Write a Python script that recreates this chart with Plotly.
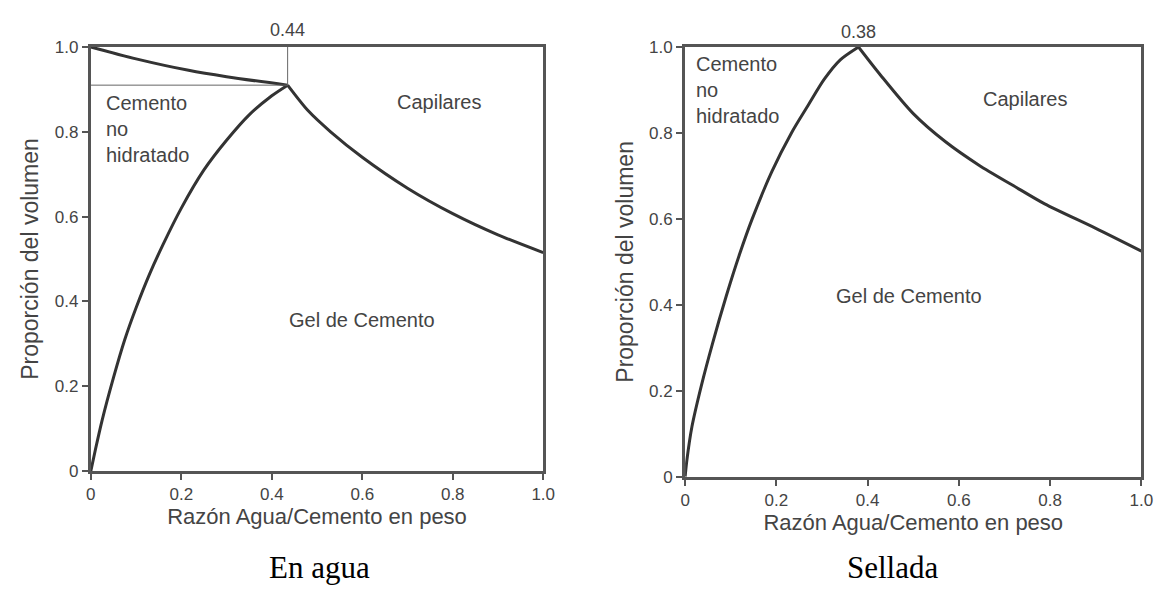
import plotly.graph_objects as go
from plotly.subplots import make_subplots

# left panel: "En agua"
agua_upper_x = [0.0, 0.1, 0.216, 0.3, 0.435]
agua_upper_y = [1.0, 0.972, 0.945, 0.93, 0.91]
agua_gel_x = [0.0, 0.01, 0.025, 0.05, 0.075, 0.1, 0.13, 0.16, 0.2, 0.25, 0.3, 0.35, 0.4, 0.435]
agua_gel_y = [0.0, 0.05, 0.12, 0.22, 0.31, 0.385, 0.465, 0.535, 0.62, 0.71, 0.78, 0.84, 0.885, 0.91]
agua_cap_x = [0.435, 0.48, 0.53, 0.6, 0.7, 0.8, 0.9, 1.0]
agua_cap_y = [0.91, 0.85, 0.80, 0.74, 0.667, 0.607, 0.557, 0.515]

# right panel: "Sellada"
sell_gel_x = [0.0, 0.004, 0.015, 0.036, 0.06, 0.09, 0.12, 0.147, 0.19, 0.233, 0.27, 0.305, 0.34, 0.38]
sell_gel_y = [0.0, 0.04, 0.117, 0.214, 0.31, 0.42, 0.52, 0.6, 0.71, 0.8, 0.865, 0.925, 0.97, 1.0]
sell_cap_x = [0.38, 0.428, 0.5, 0.57, 0.644, 0.72, 0.788, 0.9, 1.0]
sell_cap_y = [1.0, 0.935, 0.845, 0.78, 0.725, 0.677, 0.635, 0.578, 0.525]

tick_vals = [0, 0.2, 0.4, 0.6, 0.8, 1.0]
tick_text = ["0", "0.2", "0.4", "0.6", "0.8", "1.0"]

CURVE_COLOR = "#333333"
AXIS_COLOR = "#555555"
TEXT_COLOR = "#444444"
FONT = "Liberation Sans, Arial, sans-serif"

fig = make_subplots(rows=1, cols=2)

def curve(x, y, col):
    fig.add_trace(go.Scatter(x=x, y=y, mode="lines",
                             line=dict(color=CURVE_COLOR, width=3, shape="spline", smoothing=0.8)),
                  row=1, col=col)

curve(agua_upper_x, agua_upper_y, 1)
curve(agua_gel_x, agua_gel_y, 1)
curve(agua_cap_x, agua_cap_y, 1)
curve(sell_gel_x, sell_gel_y, 2)
curve(sell_cap_x, sell_cap_y, 2)

# guide lines to the peak, left panel
px, py = agua_gel_x[-1], agua_gel_y[-1]
fig.add_trace(go.Scatter(x=[0, px], y=[py, py], mode="lines", line=dict(color="#666666", width=1)), row=1, col=1)
fig.add_trace(go.Scatter(x=[px, px], y=[py, 1.0], mode="lines", line=dict(color="#666666", width=1)), row=1, col=1)

axis_style = dict(range=[0, 1.0], showline=True, linecolor=AXIS_COLOR, linewidth=3, mirror=True,
                  ticks="outside", ticklen=6, tickcolor=AXIS_COLOR, tickwidth=1.5,
                  tickvals=tick_vals, ticktext=tick_text, showgrid=False, zeroline=False,
                  tickfont=dict(family=FONT, size=17, color=TEXT_COLOR))

fig.update_xaxes(**axis_style)
fig.update_yaxes(**axis_style)
fig.update_xaxes(domain=[79 / 1174, 538 / 1174], row=1, col=1)
fig.update_xaxes(domain=[682 / 1174, 1145 / 1174], row=1, col=2)
fig.update_yaxes(domain=[(592 - 469) / 592, (592 - 31) / 592], row=1, col=1)
fig.update_yaxes(domain=[(592 - 475) / 592, (592 - 31) / 592], row=1, col=2)

for col in (1, 2):
    fig.update_xaxes(title=dict(text="Razón Agua/Cemento en peso",
                                font=dict(family=FONT, size=22, color=TEXT_COLOR), standoff=6),
                     row=1, col=col)
    fig.update_yaxes(title=dict(text="Proporción del volumen",
                                font=dict(family=FONT, size=23, color=TEXT_COLOR), standoff=10),
                     row=1, col=col)

def label(text, x, y, xref, yref, size=20, xanchor="center", color=TEXT_COLOR, family=FONT,
          yanchor="middle", yshift=0):
    fig.add_annotation(text=text, x=x, y=y, xref=xref, yref=yref, showarrow=False,
                       font=dict(family=family, size=size, color=color),
                       xanchor=xanchor, yanchor=yanchor, align="left", yshift=yshift)

# left panel labels
label("Cemento<br>no<br>hidratado", 0.028, 0.806, "x", "y", xanchor="left")
label("Capilares", 0.77, 0.87, "x", "y")
label("Gel de Cemento", 0.6, 0.355, "x", "y")
label("0.44", px, 1.0, "x", "y", size=18, yanchor="bottom", yshift=5)
label("0.91", -0.015, py, "x", "y", size=10, xanchor="right")
label("0.54", 1.012, agua_cap_y[-1], "x", "y", size=10, xanchor="left")

# right panel labels
label("Cemento<br>no<br>hidratado", 0.02, 0.9, "x2", "y2", xanchor="left")
label("Capilares", 0.745, 0.878, "x2", "y2")
label("Gel de Cemento", 0.49, 0.42, "x2", "y2")
label("0.38", sell_gel_x[-1], 1.0, "x2", "y2", size=18, yanchor="bottom", yshift=3)
label("0.53", 1.012, sell_cap_y[-1], "x2", "y2", size=10, xanchor="left")

# captions
serif = "Liberation Serif, Times New Roman, serif"
label("En agua", 0.265, 0.04, "paper", "paper", size=31, color="black", family=serif)
label("Sellada", 0.76, 0.04, "paper", "paper", size=31, color="black", family=serif)

fig.update_layout(
    width=1174,
    height=592,
    margin=dict(l=0, r=0, t=0, b=0),
    showlegend=False,
    paper_bgcolor="white",
    plot_bgcolor="white",
    hovermode=False,
)

fig.write_html("out.html")
